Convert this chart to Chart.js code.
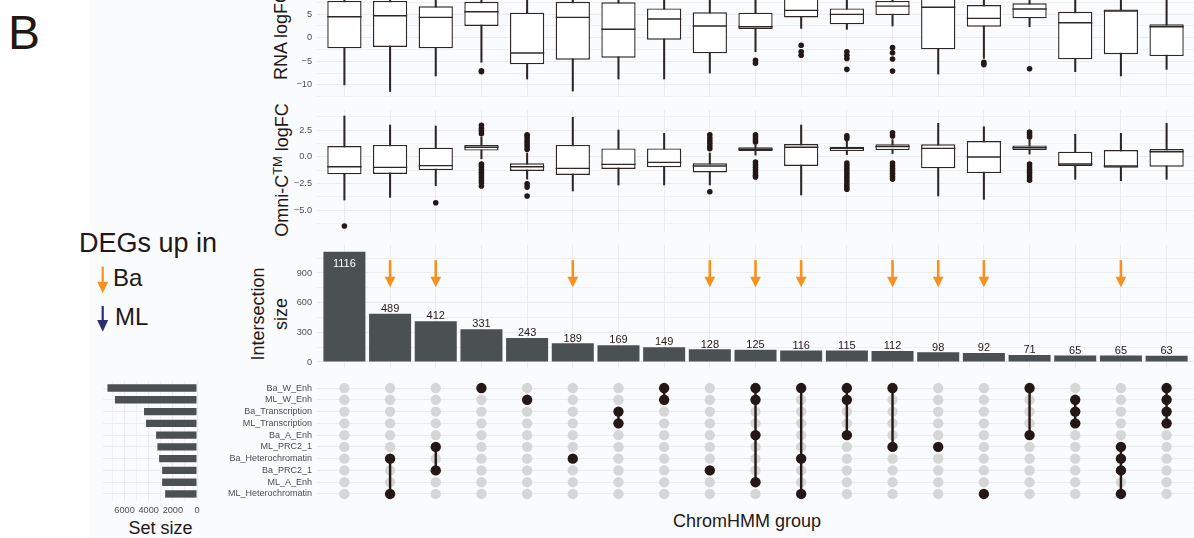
<!DOCTYPE html>
<html>
<head>
<meta charset="utf-8">
<script src="https://cdn.jsdelivr.net/npm/chart.js@4.4.1/dist/chart.umd.min.js"></script>
<style>
  html, body { margin: 0; padding: 0; background: #ffffff; }
  body { width: 1194px; height: 538px; position: relative; overflow: hidden;
         font-family: 'Liberation Sans', Arial, sans-serif; color: #231815; }
  #panelBg { position: absolute; left: 90px; top: 0; width: 1104px; height: 538px; background: #fafbfd; }
  canvas { position: absolute; }
  .txt { position: absolute; line-height: 1; white-space: nowrap; }
  .vt { position: absolute; line-height: 1; white-space: nowrap; text-align: center;
        transform: rotate(-90deg); font-size: 18px; }
  .sup { font-size: 0.72em; position: relative; top: -0.45em; }
</style>
</head>
<body>
<div id="panelBg"></div>

<div class="txt" style="left:8px; top:8.8px; font-size:48px;">B</div>
<div class="txt" style="left:79px; top:230.1px; font-size:27px;">DEGs up in</div>
<svg width="200" height="340" style="position:absolute; left:0; top:0;">
  <line x1="102.7" y1="266.7" x2="102.7" y2="283" stroke="#f7901e" stroke-width="2.2"/>
  <polygon points="97.2,281.7 108.2,281.7 102.7,293.3" fill="#f7901e"/>
  <line x1="102.7" y1="306" x2="102.7" y2="321" stroke="#2b2e6f" stroke-width="2.2"/>
  <polygon points="97.2,320 108.2,320 102.7,331.7" fill="#2b2e6f"/>
</svg>
<div class="txt" style="left:113px; top:265.7px; font-size:24px;">Ba</div>
<div class="txt" style="left:115px; top:304.7px; font-size:24px;">ML</div>

<div class="vt" style="left:180.8px; top:25.5px; width:200px; height:18px;">RNA logFC</div>
<div class="vt" style="left:181.8px; top:161px; width:200px; height:18px;">Omni-C<span class="sup">TM</span> logFC</div>
<div class="vt" style="left:195.25px; top:290.5px; width:150px; height:46px; line-height:23px;">Intersection<br>size</div>
<div class="txt" style="left:100.5px; top:519.3px; width:120px; text-align:center; font-size:18px;">Set size</div>
<div class="txt" style="left:597px; top:512.1px; width:300px; text-align:center; font-size:18px;">ChromHMM group</div>

<canvas id="rnaChart" width="944" height="97" style="left:250px; top:0px;"></canvas>
<canvas id="omniChart" width="944" height="122" style="left:250px; top:110px;"></canvas>
<canvas id="sizeChart" width="944" height="123" style="left:250px; top:245px;"></canvas>
<canvas id="matrixChart" width="994" height="120" style="left:200px; top:381px;"></canvas>
<canvas id="setChart" width="120" height="140" style="left:90px; top:381px;"></canvas>

<script>
// ---- Sets and intersections -------------------------------------------
const setNames = ['Ba_W_Enh', 'ML_W_Enh', 'Ba_Transcription', 'ML_Transcription', 'Ba_A_Enh',
                  'ML_PRC2_1', 'Ba_Heterochromatin', 'Ba_PRC2_1', 'ML_A_Enh', 'ML_Heterochromatin'];
const setSizes = [7420, 6800, 4390, 4220, 3390, 3280, 3140, 2890, 2890, 2640];

const intersectionSizes = [1116, 489, 412, 331, 243, 189, 169, 149, 128, 125, 116, 115, 112, 98, 92, 71, 65, 65, 63];
const intersectionMembers = [
  [],
  ['Ba_Heterochromatin', 'ML_Heterochromatin'],
  ['ML_PRC2_1', 'Ba_PRC2_1'],
  ['Ba_W_Enh'],
  ['ML_W_Enh'],
  ['Ba_Heterochromatin'],
  ['Ba_Transcription', 'ML_Transcription'],
  ['Ba_W_Enh', 'ML_W_Enh'],
  ['Ba_PRC2_1'],
  ['Ba_W_Enh', 'ML_W_Enh', 'Ba_A_Enh', 'ML_A_Enh'],
  ['Ba_W_Enh', 'Ba_Heterochromatin', 'ML_Heterochromatin'],
  ['Ba_W_Enh', 'ML_W_Enh', 'Ba_A_Enh'],
  ['Ba_W_Enh', 'ML_PRC2_1'],
  ['ML_PRC2_1'],
  ['ML_Heterochromatin'],
  ['Ba_W_Enh', 'Ba_A_Enh'],
  ['ML_W_Enh', 'Ba_Transcription', 'ML_Transcription'],
  ['ML_PRC2_1', 'Ba_Heterochromatin', 'Ba_PRC2_1', 'ML_Heterochromatin'],
  ['Ba_W_Enh', 'ML_W_Enh', 'Ba_Transcription', 'ML_Transcription']
];
// intersections enriched for DEGs up in Ba (orange arrows)
const baUpColumns = [1, 2, 5, 8, 9, 10, 12, 13, 14, 17];

// ---- RNA logFC per intersection (box statistics) ------------------------
const rnaLow    = [-10.0, -11.4, -8.1, -5.2, -8.75, -11.3, -8.75, -8.75, -7.5, -2.97, 1.98, 1.78, 2.48, -7.7, -4.37, 2.33, -7.2, -8.1, -6.7];
const rnaQ1     = [-2.25, -1.97, -2.25, 2.48, -5.64, -4.66, -4.24, -0.42, -3.3, 1.84, 4.3, 2.83, 4.8, -2.46, 2.33, 4.1, -4.58, -3.5, -3.88];
const rnaMedian = [4.45, 4.66, 4.3, 5.5, -3.24, 4.3, 1.78, 3.96, 2.48, 2.33, 5.8, 4.95, 6.7, 6.44, 4.1, 6.08, 3.18, 5.66, 2.33];
const rnaQ3     = [7.8, 7.8, 6.65, 7.6, 5.3, 7.6, 7.5, 6.2, 5.37, 5.3, 9.0, 6.2, 7.8, 8.4, 6.93, 7.3, 5.5, 6.0, 2.83];
const rnaHigh   = [14, 14, 13, 11, 12.5, 14, 13, 12, 12, 9.5, 12, 10, 11, 13, 11, 10, 12, 12, 12];
const rnaOutliers = [[], [], [], [-7.0, -7.2], [], [], [], [], [], [-4.8, -5.4], [-1.6, -3.0, -3.7],
  [-3.0, -3.7, -4.4, -6.7], [-2.1, -3.2, -4.5, -7.05], [], [-5.2, -5.7], [-6.6], [], [], []];

// ---- Omni-C logFC per intersection (box statistics) ---------------------
const omniLow    = [-4.06, -3.81, -2.72, -0.2, -2.1, -3.21, -2.65, -2.65, -2.65, 0.15, -3.59, 0.2, 0.3, -3.68, -4.0, 0.25, -2.12, -2.25, -2.12];
const omniQ1     = [-1.65, -1.62, -1.25, 0.57, -1.34, -1.71, -1.15, -1.0, -1.47, 0.53, -0.87, 0.53, 0.62, -1.09, -1.53, 0.62, -0.87, -1.03, -0.94];
const omniMedian = [-0.94, -1.0, -0.84, 0.88, -0.94, -1.09, -0.72, -0.53, -0.87, 0.7, 0.88, 0.78, 0.94, 0.78, -0.03, 0.84, -0.69, -0.87, 0.47];
const omniQ3     = [1.0, 1.1, 0.85, 1.1, -0.62, 1.1, 0.78, 0.78, -0.62, 0.88, 1.19, 0.94, 1.16, 1.16, 1.47, 1.06, 0.47, 0.62, 0.72];
const omniHigh   = [3.81, 2.97, 2.88, 1.85, 0.35, 3.7, 2.5, 2.19, 0.35, 1.1, 2.97, 1.45, 1.6, 3.13, 2.81, 1.55, 2.1, 2.19, 3.13];
const omniOutliers = [
  [-6.5], [], [-4.31],
  [2.15, 2.4, 2.65, 2.95, -0.7, -0.95, -1.2, -1.45, -1.7, -1.95, -2.2, -2.45, -2.75],
  [0.7, 0.95, 1.2, 1.45, 1.7, 1.95, 2.05, -2.55, -2.85, -3.68],
  [], [], [],
  [0.75, 1.0, 1.25, 1.5, 1.75, 2.05, -3.28],
  [1.38, 1.6, 1.85, 2.06, -0.5, -0.75, -1.0, -1.25, -1.5, -1.75, -1.9],
  [],
  [1.7, 1.95, -0.6, -0.85, -1.1, -1.35, -1.6, -1.85, -2.1, -2.35, -2.6, -2.85, -3.05],
  [1.95, 2.25, -0.6, -0.85, -1.1, -1.35, -1.6, -1.85, -2.1],
  [], [],
  [1.85, 2.05, 2.3, -0.68, -0.95, -1.2, -1.45, -1.7, -1.95, -2.2],
  [], [], []
];

// ---- Axis ticks ---------------------------------------------------------
const rnaGridTicks = [-12.5, -10, -7.5, -5, -2.5, 0, 2.5, 5, 7.5];
const rnaLabelTicks = [-10, -5, 0, 5];
const rnaTickLabels = ['\u221210', '\u22125', '0', '5'];
const omniGridTicks = [-6.25, -5, -3.75, -2.5, -1.25, 0, 1.25, 2.5, 3.75];
const omniLabelTicks = [-5, -2.5, 0, 2.5];
const omniTickLabels = ['\u22125.0', '\u22122.5', '0.0', '2.5'];
const sizeGridTicks = [0, 150, 300, 450, 600, 750, 900, 1050];
const sizeLabelTicks = [0, 300, 600, 900];
const sizeTickLabels = ['0', '300', '600', '900'];
const setGridTicks = [0, 1000, 2000, 3000, 4000, 5000, 6000, 7000];
const setLabelTicks = [0, 2000, 4000, 6000];
const setTickLabels = ['0', '2000', '4000', '6000'];

// ---- Styling ------------------------------------------------------------
const INK = '#231815';
const BOX_LINE = '#2d2825';
const BAR_FILL = '#4b5053';
const GRID = '#ebebeb';
const TICK = '#4d4d4d';
const DOT_OFF = '#d6d6d6';
const ARROW_BA = '#f7901e';
const FONT = "'Liberation Sans', Arial, sans-serif";

Chart.defaults.font.family = FONT;
Chart.defaults.color = TICK;

const columnIdx = intersectionSizes.map((_, i) => i);
const rowIdx = setNames.map((_, i) => i);

const baseOptions = {
  responsive: false,
  animation: false,
  events: [],
  layout: { padding: 0, autoPadding: false },
  plugins: { legend: { display: false }, tooltip: { enabled: false } }
};

// shared intersection axis: one column per intersection
function columnAxis(showGrid) {
  return {
    type: 'linear', min: -0.6, max: intersectionSizes.length - 0.4, offset: false,
    afterBuildTicks: s => { s.ticks = columnIdx.map(v => ({ value: v })); },
    afterFit: s => { s.height = 0; },
    ticks: { display: false },
    grid: { display: showGrid, color: GRID, lineWidth: 1, drawTicks: false, offset: false },
    border: { display: false }
  };
}

// label gap comes from an invisible tick mark so the axis adds no vertical padding
function valueAxis(min, max, gridTicks, labelTicks, labels, width) {
  return {
    type: 'linear', min, max,
    afterBuildTicks: s => { s.ticks = gridTicks.map(v => ({ value: v })); },
    afterFit: s => { s.width = width; },
    grid: { color: GRID, drawTicks: true, tickLength: 5, tickColor: 'rgba(0,0,0,0)',
            lineWidth: c => labelTicks.includes(c.tick.value) ? 1 : 0.7 },
    border: { display: false },
    ticks: {
      color: TICK, padding: 0, font: { size: 9.2, lineHeight: 0 },
      callback: v => { const k = labelTicks.indexOf(v); return k >= 0 ? labels[k] : ''; }
    }
  };
}

// median bar across each box
function medianPlugin(medians) {
  return {
    id: 'medianLines',
    afterDatasetsDraw(chart) {
      const meta = chart.getDatasetMeta(1);
      const y = chart.scales.y, a = chart.chartArea, ctx = chart.ctx;
      ctx.save();
      ctx.beginPath(); ctx.rect(a.left, a.top, a.right - a.left, a.bottom - a.top); ctx.clip();
      ctx.strokeStyle = BOX_LINE; ctx.lineWidth = 1.4;
      meta.data.forEach((bar, i) => {
        const py = y.getPixelForValue(medians[i]);
        ctx.beginPath(); ctx.moveTo(bar.x - bar.width / 2, py); ctx.lineTo(bar.x + bar.width / 2, py); ctx.stroke();
      });
      ctx.restore();
    }
  };
}

function boxChart(id, low, q1, med, q3, high, outliers, yAxis) {
  return new Chart(document.getElementById(id), {
    type: 'bar',
    data: {
      datasets: [
        { type: 'scatter', order: 0,
          data: outliers.flatMap((vals, i) => vals.map(v => ({ x: i, y: v }))),
          pointRadius: 2.8, pointBackgroundColor: INK, pointBorderWidth: 0 },
        { order: 1, grouped: false, categoryPercentage: 1, barPercentage: 0.75,
          data: columnIdx.map(i => ({ x: i, y: [q1[i], q3[i]] })),
          backgroundColor: '#ffffff', borderColor: BOX_LINE, borderWidth: 1.4, borderSkipped: false },
        { order: 2, grouped: false, barThickness: 1.4,
          data: columnIdx.map(i => ({ x: i, y: [low[i], high[i]] })),
          backgroundColor: BOX_LINE, borderWidth: 0 }
      ]
    },
    options: Object.assign({}, baseOptions, { scales: { x: columnAxis(true), y: yAxis } }),
    plugins: [medianPlugin(med)]
  });
}

boxChart('rnaChart', rnaLow, rnaQ1, rnaMedian, rnaQ3, rnaHigh, rnaOutliers,
  valueAxis(-12.56, 7.99, rnaGridTicks, rnaLabelTicks, rnaTickLabels, 67));
boxChart('omniChart', omniLow, omniQ1, omniMedian, omniQ3, omniHigh, omniOutliers,
  valueAxis(-7.057, 4.377, omniGridTicks, omniLabelTicks, omniTickLabels, 67));

// ---- Intersection size bars --------------------------------------------
const barLabelPlugin = {
  id: 'barLabels',
  afterDatasetsDraw(chart) {
    const ctx = chart.ctx, meta = chart.getDatasetMeta(0), area = chart.chartArea;
    ctx.save();
    ctx.font = '11px ' + FONT; ctx.textAlign = 'center'; ctx.textBaseline = 'alphabetic';
    meta.data.forEach((bar, i) => {
      const text = String(intersectionSizes[i]);
      if (bar.y - 14 < area.top) { ctx.fillStyle = '#ffffff'; ctx.fillText(text, bar.x, bar.y + 15.3); }
      else { ctx.fillStyle = INK; ctx.fillText(text, bar.x, bar.y - 1.8); }
    });
    ctx.restore();
  }
};

const baArrowPlugin = {
  id: 'baArrows',
  afterDatasetsDraw(chart) {
    const { ctx, scales: { x, y } } = chart;
    const top = y.getPixelForValue(1030), tip = y.getPixelForValue(755);
    ctx.save();
    ctx.fillStyle = ARROW_BA; ctx.strokeStyle = ARROW_BA; ctx.lineWidth = 2.6;
    baUpColumns.forEach(c => {
      const px = x.getPixelForValue(c);
      ctx.beginPath(); ctx.moveTo(px, top); ctx.lineTo(px, tip - 9); ctx.stroke();
      ctx.beginPath(); ctx.moveTo(px - 5.4, tip - 10.7); ctx.lineTo(px + 5.4, tip - 10.7); ctx.lineTo(px, tip);
      ctx.closePath(); ctx.fill();
    });
    ctx.restore();
  }
};

new Chart(document.getElementById('sizeChart'), {
  type: 'bar',
  data: { datasets: [{
    data: intersectionSizes.map((v, i) => ({ x: i, y: v })),
    backgroundColor: BAR_FILL, borderWidth: 0, categoryPercentage: 1, barPercentage: 0.92
  }] },
  options: Object.assign({}, baseOptions, { scales: {
    x: columnAxis(true),
    y: valueAxis(-60.7, 1183, sizeGridTicks, sizeLabelTicks, sizeTickLabels, 67)
  } }),
  plugins: [baArrowPlugin, barLabelPlugin]
});

// ---- Membership matrix --------------------------------------------------
const rowOf = name => setNames.indexOf(name);
const memberPoints = intersectionMembers.flatMap((m, c) => m.map(n => ({ x: c, y: rowOf(n) })));
const emptyPoints = intersectionMembers.flatMap((m, c) =>
  setNames.filter(n => !m.includes(n)).map(n => ({ x: c, y: rowOf(n) })));
const linkPoints = intersectionMembers.flatMap((m, c) => {
  if (m.length < 2) return [];
  const rows = m.map(rowOf);
  return [{ x: c, y: Math.min(...rows) }, { x: c, y: Math.max(...rows) }, { x: c, y: null }];
});

function rowAxis(width, showLabels) {
  return {
    type: 'linear', min: -0.6, max: setNames.length - 0.4, reverse: true, offset: false,
    afterBuildTicks: s => { s.ticks = rowIdx.map(v => ({ value: v })); },
    afterFit: s => { s.width = width; },
    grid: { color: GRID, lineWidth: 1, drawTicks: showLabels, tickLength: 5,
            tickColor: 'rgba(0,0,0,0)', offset: false },
    border: { display: false },
    ticks: showLabels
      ? { color: TICK, padding: 0, font: { size: 9, lineHeight: 0 }, callback: v => setNames[v] }
      : { display: false }
  };
}

new Chart(document.getElementById('matrixChart'), {
  type: 'scatter',
  data: { datasets: [
    { order: 0, data: memberPoints, pointRadius: 5.2, pointBackgroundColor: INK, pointBorderWidth: 0 },
    { order: 1, type: 'line', data: linkPoints, borderColor: INK, borderWidth: 2.4,
      pointRadius: 0, spanGaps: false, fill: false, showLine: true },
    { order: 2, data: emptyPoints, pointRadius: 5.2, pointBackgroundColor: DOT_OFF, pointBorderWidth: 0 }
  ] },
  options: Object.assign({}, baseOptions, { scales: { x: columnAxis(false), y: rowAxis(117, true) } })
});

// ---- Set sizes ----------------------------------------------------------
new Chart(document.getElementById('setChart'), {
  type: 'bar',
  data: { datasets: [{
    data: setSizes.map((v, i) => ({ x: v, y: i })),
    backgroundColor: BAR_FILL, borderWidth: 0, categoryPercentage: 1, barPercentage: 0.63
  }] },
  options: Object.assign({}, baseOptions, {
    indexAxis: 'y',
    layout: { padding: { left: 13, right: 13, top: 0, bottom: 0 }, autoPadding: false },
    scales: {
      x: {
        type: 'linear', min: 0, max: 7788, reverse: true, offset: false,
        afterBuildTicks: s => { s.ticks = setGridTicks.map(v => ({ value: v })); },
        afterFit: s => { s.height = 20; },
        grid: { color: GRID, drawTicks: false, offset: false,
                lineWidth: c => setLabelTicks.includes(c.tick.value) ? 1 : 0.7 },
        border: { display: false },
        ticks: { color: TICK, padding: 4, font: { size: 9.2 }, autoSkip: false, minRotation: 0, maxRotation: 0,
                 callback: v => { const k = setLabelTicks.indexOf(v); return k >= 0 ? setTickLabels[k] : ''; } }
      },
      y: rowAxis(0, false)
    }
  })
});
</script>
</body>
</html>
